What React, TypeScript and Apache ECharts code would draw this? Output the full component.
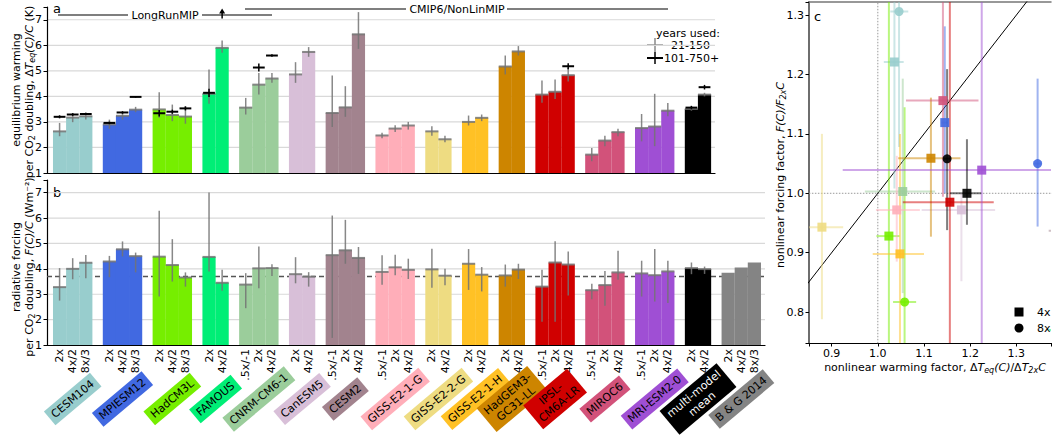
import React, { useEffect, useRef } from "react";
import * as echarts from "echarts";

const FONT = "DejaVu Sans";

// ---------------- data ----------------
const models = [
  "CESM104", "MPIESM12", "HadCM3L", "FAMOUS", "CNRM-CM6-1", "CanESM5", "CESM2",
  "GISS-E2-1-G", "GISS-E2-2-G", "GISS-E2-1-H", "HadGEM3-GC31-LL", "IPSL-CM6A-LR",
  "MIROC6", "MRI-ESM2-0", "multi-model mean", "B & G 2014",
];
const modelLabels = [
  "CESM104", "MPIESM12", "HadCM3L", "FAMOUS", "CNRM-CM6-1", "CanESM5", "CESM2",
  "GISS-E2-1-G", "GISS-E2-2-G", "GISS-E2-1-H", "HadGEM3-\nGC31-LL", "IPSL-\nCM6A-LR",
  "MIROC6", "MRI-ESM2-0", "multi-model\nmean", "B & G 2014",
];
const experiments = [
  ["2x", "4x/2", "8x/3"],
  ["2x", "4x/2", "8x/3"],
  ["2x", "4x/2", "8x/3"],
  ["2x", "4x/2"],
  [".5x/-1", "2x", "4x/2"],
  ["2x", "4x/2"],
  [".5x/-1", "2x", "4x/2"],
  [".5x/-1", "2x", "4x/2"],
  ["2x", "4x/2"],
  ["2x", "4x/2"],
  ["2x", "4x/2"],
  [".5x/-1", "2x", "4x/2"],
  [".5x/-1", "2x", "4x/2"],
  [".5x/-1", "2x", "4x/2"],
  ["2x", "4x/2"],
  ["2x", "4x/2", "8x/3"],
];

// panel a: equilibrium warming per CO2 doubling (K), years 21-150
const warming = [
  [2.63, 3.17, 3.22], [2.90, 3.24, 3.48], [3.49, 3.27, 3.21], [4.10, 5.90],
  [3.56, 4.46, 4.70], [4.86, 5.74], [3.35, 3.57, 6.43], [2.47, 2.74, 2.86],
  [2.63, 2.32], [3.00, 3.16], [5.17, 5.76], [4.07, 4.18, 4.83],
  [1.72, 2.27, 2.60], [2.76, 2.82, 3.44], [3.51, 4.07], [null, null, null],
];
const warmingLow = [
  [2.44, 2.99, 3.09], [2.73, 3.09, 3.38], [3.16, 3.03, 2.93], [3.71, 5.71],
  [3.29, 4.07, 4.53], [4.53, 5.55], [2.80, 3.20, 5.86], [2.36, 2.61, 2.70],
  [2.46, 2.20], [2.86, 3.03], [4.86, 5.60], [3.75, 3.90, 4.58],
  [1.46, 2.05, 2.44], [2.24, 2.05, 3.22], [3.44, 4.00], [null, null, null],
];
const warmingHigh = [
  [2.96, 3.35, 3.38], [3.09, 3.38, 3.59], [4.16, 3.68, 3.61], [5.05, 6.19],
  [3.94, 4.92, 4.92], [5.34, 5.93], [4.82, 4.40, 7.30], [2.58, 2.87, 3.00],
  [2.83, 2.46], [3.25, 3.29], [5.60, 5.97], [4.62, 4.66, 5.12],
  [1.98, 2.46, 2.73], [3.31, 4.10, 3.74], [3.60, 4.14], [null, null, null],
];
// years 101-750+ estimates (black crosses)
const warmingLong = [
  [3.20, 3.29, 3.31], [2.96, 3.37, 3.98], [3.34, 3.40, 3.53], [4.14, null],
  [null, 5.13, 5.60], [null, null], [null, null, null], [null, null, null],
  [null, null], [null, null], [null, null], [null, null, 5.18],
  [null, null, null], [null, null, null], [3.56, 4.36], [null, null, null],
];
const warmingLongErr = [
  [0.06, 0.05, 0.04], [0.05, 0.05, 0.03], [0.13, 0.08, 0.08], [0.16, 0],
  [0, 0.16, 0.05], [0, 0], [0, 0, 0], [0, 0, 0],
  [0, 0], [0, 0], [0, 0], [0, 0, 0.12],
  [0, 0, 0], [0, 0, 0], [0.07, 0.09], [0, 0, 0],
];
const warmingOffScaleUp = ["FAMOUS 4x/2"];

// panel b: radiative forcing per CO2 doubling (W m-2)
const forcing = [
  [3.28, 4.00, 4.24], [4.29, 4.77, 4.50], [4.48, 4.15, 3.66], [4.47, 3.45],
  [3.38, 4.02, 4.03], [3.79, 3.69], [4.54, 4.73, 4.43], [3.88, 4.06, 3.96],
  [3.98, 3.73], [4.20, 3.77], [3.74, 3.97], [3.30, 4.25, 4.17],
  [3.16, 3.36, 3.86], [3.82, 3.75, 3.90], [4.03, 3.99], [3.85, 4.05, 4.25],
];
const forcingLow = [
  [2.75, 3.59, 3.63], [3.67, 4.49, 3.86], [2.91, 3.50, 3.30], [3.90, 3.14],
  [2.45, 3.24, 3.72], [3.43, 3.30], [1.28, 4.20, 3.80], [3.37, 3.75, 3.60],
  [3.26, 3.35], [3.17, 3.11], [3.30, 3.60], [1.92, 1.92, 2.95],
  [2.80, 2.55, 3.57], [2.91, 2.71, 2.65], [3.79, 3.80], [null, null, null],
];
const forcingHigh = [
  [4.03, 4.42, 4.55], [4.51, 5.08, 4.64], [6.29, 5.17, 3.86], [7.01, 3.96],
  [3.83, 4.88, 4.18], [4.46, 3.87], [6.10, 5.93, 4.86], [4.54, 4.56, 4.40],
  [4.79, 4.00], [4.78, 4.07], [4.17, 4.20], [3.96, 5.09, 4.68],
  [3.41, 3.92, 4.71], [4.32, 4.78, 4.32], [4.25, 4.09], [null, null, null],
];
const forcingReference = 3.7;

// panel c: nonlinear factors
const scatterModel = [
  "CESM104", "CESM104", "MPIESM12", "MPIESM12", "HadCM3L", "HadCM3L", "FAMOUS",
  "CNRM-CM6-1", "CanESM5", "CESM2", "GISS-E2-1-G", "GISS-E2-2-G", "GISS-E2-1-H",
  "HadGEM3-GC31-LL", "IPSL-CM6A-LR", "MIROC6", "MRI-ESM2-0", "multi-model mean", "multi-model mean",
];
const scatterExp = ["4x", "8x", "4x", "8x", "4x", "8x", "4x", "4x", "4x", "4x", "4x", "4x", "4x", "4x", "4x", "4x", "4x", "8x", "4x"];
const warmFactor = [1.036, 1.046, 1.145, 1.346, 1.024, 1.058, 1.44, 1.054, 1.181, 1.80, 1.041, 0.879, 1.048, 1.115, 1.156, 1.141, 1.225, 1.150, 1.193];
const warmFactorLow = [1.013, 1.027, 1.138, 1.339, 0.997, 1.033, 1.37, 0.972, 1.095, 1.37, 0.996, 0.830, 0.989, 1.044, 1.054, 1.061, 0.924, 1.142, 1.156];
const warmFactorHigh = [1.056, 1.066, 1.152, 1.353, 1.047, 1.083, 1.51, 1.124, 1.254, 2.20, 1.091, 0.925, 1.100, 1.179, 1.251, 1.218, 1.600, 1.158, 1.224];
const forcFactor = [1.221, 1.306, 1.119, 1.050, 0.928, 0.817, 0.770, 1.003, 0.972, 0.937, 0.972, 0.943, 0.898, 1.059, 0.985, 1.156, 1.039, 1.058, 1.000];
const forcFactorLow = [1.008, 1.078, 1.000, 0.944, 0.600, 0.600, 0.700, 0.832, 0.852, 0.850, 0.885, 0.788, 0.600, 0.927, 0.600, 0.994, 0.600, 0.938, 0.947];
const forcFactorHigh = [1.450, 1.500, 1.281, 1.193, 1.500, 1.145, 0.840, 1.193, 1.000, 1.020, 1.063, 1.100, 1.100, 1.161, 1.500, 1.500, 1.500, 1.209, 1.091];

// ---------------- styles / layout ----------------
const modelColors = [
  "#98cdcd", "#4169e1", "#76ee00", "#00ee76", "#9bcd9b", "#d8bfd8", "#a2838e",
  "#ffaeb9", "#eedc82", "#ffc125", "#cd8500", "#d00000", "#d2527a", "#9f4fd4",
  "#000000", "#848484",
];
const labelTextColors = models.map((m) => (m === "multi-model mean" ? "#ffffff" : "#000000"));

const GAP = 0.8;
const X_MIN = -0.46;
const X_MAX_A = 50.5;
const X_MAX_B = 54.31;
const GRAY = "rgba(115,115,115,0.85)";

function rgba(hex: string, a: number) {
  const n = parseInt(hex.slice(1), 16);
  return `rgba(${(n >> 16) & 255},${(n >> 8) & 255},${n & 255},${a})`;
}

type Item = {
  x: number; v: number; lo: number | null; hi: number | null;
  lv: number | null; le: number; arrow: boolean; color: string; label: string;
};

function buildItems() {
  const positions: number[][] = [];
  let k = 0;
  experiments.forEach((exps, g) => {
    positions.push(exps.map(() => { const c = k + GAP * g + 0.5; k++; return c; }));
  });
  const itemsA: Item[] = [];
  const itemsB: Item[] = [];
  experiments.forEach((exps, g) => {
    exps.forEach((e, j) => {
      const x = positions[g][j];
      const w = warming[g][j];
      if (w != null) {
        itemsA.push({
          x, v: w, lo: warmingLow[g][j], hi: warmingHigh[g][j],
          lv: warmingLong[g][j], le: warmingLongErr[g][j],
          arrow: warmingOffScaleUp.includes(`${models[g]} ${e}`),
          color: modelColors[g], label: e,
        });
      }
      itemsB.push({
        x, v: forcing[g][j], lo: forcingLow[g][j], hi: forcingHigh[g][j],
        lv: null, le: 0, arrow: false, color: modelColors[g], label: e,
      });
    });
  });
  const groupCenters = positions.map((p) => (p[0] + p[p.length - 1]) / 2);
  return { itemsA, itemsB, groupCenters };
}

function errRender(items: Item[]) {
  return (params: any, api: any) => {
    const it = items[params.dataIndex];
    const ch: any[] = [];
    const seg = (x1: number, y1: number, x2: number, y2: number, stroke: string, lw: number) => {
      const a = api.coord([x1, y1]);
      const b = api.coord([x2, y2]);
      ch.push({ type: "line", shape: { x1: a[0], y1: a[1], x2: b[0], y2: b[1] }, style: { stroke, lineWidth: lw } });
    };
    if (it.lo != null && it.hi != null) {
      seg(it.x, it.lo, it.x, it.hi, GRAY, 1.5);
      seg(it.x - 0.5, it.v, it.x + 0.5, it.v, GRAY, 2);
    }
    if (it.lv != null) {
      seg(it.x - 0.45, it.lv, it.x + 0.45, it.lv, "#000", 2);
      if (it.le > 0) seg(it.x, it.lv - it.le, it.x, it.lv + it.le, "#000", 1.5);
    }
    if (it.arrow) {
      const a = api.coord([it.x, 7.05]);
      const b = api.coord([it.x, 7.36]);
      ch.push({ type: "line", shape: { x1: a[0], y1: a[1], x2: b[0], y2: b[1] }, style: { stroke: "#000", lineWidth: 1.5 } });
      ch.push({ type: "polygon", shape: { points: [[b[0] - 3, b[1] + 3], [b[0] + 3, b[1] + 3], [b[0], b[1] - 2]] }, style: { fill: "#000" } });
    }
    return { type: "group", children: ch };
  };
}

function gridLineRender(xMin: number, xMax: number) {
  return (params: any, api: any) => {
    const v = api.value(1);
    const a = api.coord([xMin, v]);
    const b = api.coord([xMax, v]);
    return { type: "line", shape: { x1: a[0], y1: a[1], x2: b[0], y2: b[1] }, style: { stroke: "#d9d9d9", lineWidth: 1.2 } };
  };
}

const fmt1 = (v: number) => {
  const r = Math.round(v * 10) / 10;
  return Math.abs(v - r) < 1e-6 ? r.toFixed(1) : "";
};
const fmtInt = (v: number) => (Math.abs(v - Math.round(v)) < 1e-6 ? String(Math.round(v)) : "");

const richBase = {
  n: { fontSize: 11, fontFamily: FONT, fill: "#000", lineHeight: 14 },
  i: { fontSize: 11, fontFamily: FONT, fontStyle: "italic", fill: "#000", lineHeight: 14 },
  s: { fontSize: 8, fontFamily: FONT, fill: "#000", lineHeight: 9, verticalAlign: "bottom" },
  si: { fontSize: 8, fontFamily: FONT, fontStyle: "italic", fill: "#000", lineHeight: 9, verticalAlign: "bottom" },
};

function gText(text: string, x: number, y: number, align: string, vAlign: string, extra: any = {}) {
  return {
    type: "text", x, y, silent: true, ...extra,
    style: {
      text, fontSize: 11, fontFamily: FONT, fill: "#000",
      align, verticalAlign: vAlign, textAlign: align, textVerticalAlign: vAlign,
      ...(extra.style || {}),
    },
  };
}
function gLine(x1: number, y1: number, x2: number, y2: number, stroke: string, lw: number) {
  return { type: "line", silent: true, shape: { x1, y1, x2, y2 }, style: { stroke, lineWidth: lw } };
}

function buildOption() {
  const { itemsA, itemsB, groupCenters } = buildItems();
  const gridVals = [2, 3, 4, 5, 6, 7];
  const allBars = itemsB;
  const rot90 = Math.PI / 2;
  const rotLbl = (40 * Math.PI) / 180;

  const scatterIdx = scatterModel.map((m) => models.indexOf(m));

  const series: any[] = [
    {
      type: "custom", xAxisIndex: 0, yAxisIndex: 0, z: 0, silent: true,
      data: gridVals.map((v) => [0, v]), renderItem: gridLineRender(X_MIN, X_MAX_A),
    },
    {
      type: "custom", xAxisIndex: 1, yAxisIndex: 1, z: 0, silent: true,
      data: gridVals.map((v) => [0, v]), renderItem: gridLineRender(X_MIN, X_MAX_B),
    },
    {
      type: "line", xAxisIndex: 1, yAxisIndex: 1, z: 1, silent: true, symbol: "none",
      data: [[X_MIN, forcingReference], [X_MAX_B, forcingReference]],
      lineStyle: { color: "#555", width: 1.5, type: [5, 3] },
    },
    {
      type: "bar", xAxisIndex: 0, yAxisIndex: 0, z: 2, silent: true, barWidth: 13.2,
      data: itemsA.map((it) => ({ value: [it.x, it.v], itemStyle: { color: it.color } })),
    },
    {
      type: "bar", xAxisIndex: 1, yAxisIndex: 1, z: 2, silent: true, barWidth: 13.2,
      data: itemsB.map((it) => ({ value: [it.x, it.v], itemStyle: { color: it.color } })),
    },
    {
      type: "custom", xAxisIndex: 0, yAxisIndex: 0, z: 3, silent: true, clip: false,
      data: itemsA.map((it) => [it.x, it.v]), renderItem: errRender(itemsA),
    },
    {
      type: "custom", xAxisIndex: 1, yAxisIndex: 1, z: 3, silent: true, clip: false,
      data: itemsB.map((it) => [it.x, it.v]), renderItem: errRender(itemsB),
    },
    // experiment tick labels
    {
      type: "custom", xAxisIndex: 1, yAxisIndex: 1, z: 4, silent: true, clip: false,
      data: allBars.map((it) => [it.x, 1]),
      renderItem: (params: any, api: any) => {
        const it = allBars[params.dataIndex];
        const p = api.coord([it.x, 1]);
        return {
          type: "text", x: p[0], y: p[1] + 4, rotation: rot90,
          style: {
            text: it.label, fontSize: 11, fontFamily: FONT, fill: "#000",
            align: "right", verticalAlign: "middle", textAlign: "right", textVerticalAlign: "middle",
          },
        };
      },
    },
    // model labels
    {
      type: "custom", xAxisIndex: 1, yAxisIndex: 1, z: 4, silent: true, clip: false,
      data: groupCenters.map((c) => [c, 1]),
      renderItem: (params: any, api: any) => {
        const g = params.dataIndex;
        const p = api.coord([groupCenters[g], 1]);
        return {
          type: "text", x: p[0], y: p[1] + 54, rotation: rotLbl,
          style: {
            text: modelLabels[g], fontSize: 11, fontFamily: FONT, fill: labelTextColors[g],
            align: "center", verticalAlign: "middle", textAlign: "center", textVerticalAlign: "middle",
            backgroundColor: modelColors[g], padding: [3, 4, 2, 4], lineHeight: 13,
          },
        };
      },
    },
    // panel c reference lines
    {
      type: "line", xAxisIndex: 2, yAxisIndex: 2, z: 1, silent: true, symbol: "none",
      data: [[1.0, 0.5], [1.0, 1.5]], lineStyle: { color: "#999", width: 1, type: [1.5, 1.5] },
    },
    {
      type: "line", xAxisIndex: 2, yAxisIndex: 2, z: 1, silent: true, symbol: "none",
      data: [[0.5, 1.0], [1.5, 1.0]], lineStyle: { color: "#999", width: 1, type: [1.5, 1.5] },
    },
    {
      type: "line", xAxisIndex: 2, yAxisIndex: 2, z: 1, silent: true, symbol: "none",
      data: [[0.5, 0.5], [1.5, 1.5]], lineStyle: { color: "#000", width: 1 },
    },
    // panel c error bars
    {
      type: "custom", xAxisIndex: 2, yAxisIndex: 2, z: 2, silent: true, clip: true,
      data: warmFactor.map((x, i) => [x, forcFactor[i]]),
      renderItem: (params: any, api: any) => {
        const i = params.dataIndex;
        const col = rgba(modelColors[scatterIdx[i]], 0.5);
        const a = api.coord([warmFactorLow[i], forcFactor[i]]);
        const b = api.coord([warmFactorHigh[i], forcFactor[i]]);
        const c = api.coord([warmFactor[i], forcFactorLow[i]]);
        const d = api.coord([warmFactor[i], forcFactorHigh[i]]);
        return {
          type: "group",
          children: [
            { type: "line", shape: { x1: a[0], y1: a[1], x2: b[0], y2: b[1] }, style: { stroke: col, lineWidth: 2 } },
            { type: "line", shape: { x1: c[0], y1: c[1], x2: d[0], y2: d[1] }, style: { stroke: col, lineWidth: 2 } },
          ],
        };
      },
    },
    // panel c markers
    {
      type: "custom", xAxisIndex: 2, yAxisIndex: 2, z: 3, silent: true, clip: true,
      data: warmFactor.map((x, i) => [x, forcFactor[i]]),
      renderItem: (params: any, api: any) => {
        const i = params.dataIndex;
        const col = modelColors[scatterIdx[i]];
        const p = api.coord([warmFactor[i], forcFactor[i]]);
        if (scatterExp[i] === "8x") {
          return { type: "circle", shape: { cx: p[0], cy: p[1], r: 4.5 }, style: { fill: col, opacity: 0.9 } };
        }
        return { type: "rect", shape: { x: p[0] - 4.5, y: p[1] - 4.5, width: 9, height: 9 }, style: { fill: col, opacity: 0.9 } };
      },
    },
  ];

  const axisCommonLine = { onZero: false, lineStyle: { color: "#000", width: 1.2 } };

  const graphic: any[] = [
    // panel letters
    gText("a", 53, 8, "left", "middle", { style: { fontSize: 13 } }),
    gText("b", 53, 192, "left", "middle", { style: { fontSize: 13 } }),
    gText("c", 814, 16, "left", "middle", { style: { fontSize: 13 } }),
    // project annotations
    gLine(58, 15, 128, 15, "#555", 1.5),
    gText("LongRunMIP", 165, 15, "center", "middle"),
    gLine(202, 15, 272, 15, "#555", 1.5),
    gLine(245, 9, 406, 9, "#555", 1.5),
    gText("CMIP6/NonLinMIP", 457, 9, "center", "middle"),
    gLine(507, 9, 668, 9, "#555", 1.5),
    // legend panel a
    gText("years used:", 720, 33, "right", "middle"),
    gLine(647, 45, 663, 45, GRAY, 1.5),
    gLine(655, 38, 655, 52, GRAY, 1.5),
    gText("21-150", 671, 45, "left", "middle"),
    gLine(647, 58, 663, 58, "#000", 2),
    gLine(655, 52, 655, 64, "#000", 1.5),
    gText("101-750+", 664, 58, "left", "middle"),
    // y labels panel a
    gText("equilibrium warming", 16, 90, "center", "middle", { rotation: Math.PI / 2 }),
    {
      type: "text", x: 29, y: 92, rotation: Math.PI / 2, silent: true,
      style: {
        text: "{n|per CO}{s|2}{n| doubling, Δ}{i|T}{si|eq}{i|(C)/C}{n| (K)}",
        rich: richBase, align: "center", verticalAlign: "middle", textAlign: "center", textVerticalAlign: "middle",
      },
    },
    // y labels panel b
    gText("radiative forcing", 16, 267, "center", "middle", { rotation: Math.PI / 2 }),
    {
      type: "text", x: 29, y: 267, rotation: Math.PI / 2, silent: true,
      style: {
        text: "{n|per CO}{s|2}{n| doubling, }{i|F(C)/C}{n| (Wm⁻²)}",
        rich: richBase, align: "center", verticalAlign: "middle", textAlign: "center", textVerticalAlign: "middle",
      },
    },
    // panel c axis titles
    {
      type: "text", x: 780, y: 175, rotation: Math.PI / 2, silent: true,
      style: {
        text: "{n|nonlinear forcing factor, }{i|F(C)/F}{si|2x}{i|C}",
        rich: richBase, align: "center", verticalAlign: "middle", textAlign: "center", textVerticalAlign: "middle",
      },
    },
    {
      type: "text", x: 935, y: 367, silent: true,
      style: {
        text: "{n|nonlinear warming factor, Δ}{i|T}{si|eq}{i|(C)}{n|/Δ}{i|T}{si|2x}{i|C}",
        rich: richBase, align: "center", verticalAlign: "middle", textAlign: "center", textVerticalAlign: "middle",
      },
    },
    // panel c legend
    { type: "rect", silent: true, shape: { x: 1014.5, y: 307.5, width: 9, height: 9 }, style: { fill: "#000" } },
    { type: "circle", silent: true, shape: { cx: 1019, cy: 328, r: 4.5 }, style: { fill: "#000" } },
    gText("4x", 1037, 312, "left", "middle"),
    gText("8x", 1037, 328, "left", "middle"),
  ];

  return {
    animation: false,
    backgroundColor: "#ffffff",
    textStyle: { fontFamily: FONT },
    grid: [
      { left: 47, top: 7, width: 668, height: 166 },
      { left: 47, top: 180, width: 718, height: 165 },
      { left: 809, top: 2, width: 245, height: 341 },
    ],
    xAxis: [
      { gridIndex: 0, type: "value", min: X_MIN, max: X_MAX_A, axisLine: { show: true, ...axisCommonLine }, axisTick: { show: false }, axisLabel: { show: false }, splitLine: { show: false } },
      { gridIndex: 1, type: "value", min: X_MIN, max: X_MAX_B, axisLine: { show: true, ...axisCommonLine }, axisTick: { show: false }, axisLabel: { show: false }, splitLine: { show: false } },
      {
        gridIndex: 2, type: "value", min: 0.851, max: 1.375,
        axisLine: { show: true, ...axisCommonLine },
        axisTick: { show: true, length: 3.5, lineStyle: { color: "#000" } },
        axisLabel: { fontSize: 11, color: "#000", margin: 5, fontFamily: FONT, formatter: fmt1 },
        splitLine: { show: false },
      },
      {
        gridIndex: 2, type: "value", position: "top", min: 0.851, max: 1.375,
        axisLine: { show: true, onZero: false, lineStyle: { color: "#777", width: 1.5 } },
        axisTick: { show: false }, axisLabel: { show: false }, splitLine: { show: false },
      },
    ],
    yAxis: [
      {
        gridIndex: 0, type: "value", min: 1, max: 7.5, interval: 1,
        axisLine: { show: true, ...axisCommonLine },
        axisTick: { show: true, length: 3.5, lineStyle: { color: "#000" } },
        axisLabel: { fontSize: 11, color: "#000", margin: 5, fontFamily: FONT, formatter: fmtInt },
        splitLine: { show: false },
      },
      {
        gridIndex: 1, type: "value", min: 1, max: 7.5, interval: 1,
        axisLine: { show: true, ...axisCommonLine },
        axisTick: { show: true, length: 3.5, lineStyle: { color: "#000" } },
        axisLabel: { fontSize: 11, color: "#000", margin: 5, fontFamily: FONT, formatter: fmtInt },
        splitLine: { show: false },
      },
      {
        gridIndex: 2, type: "value", min: 0.748, max: 1.322,
        axisLine: { show: true, onZero: false, lineStyle: { color: "#6e6e6e", width: 2 } },
        axisTick: { show: true, length: 3.5, lineStyle: { color: "#000" } },
        axisLabel: { fontSize: 11, color: "#000", margin: 5, fontFamily: FONT, formatter: fmt1 },
        splitLine: { show: false },
      },
    ],
    series,
    graphic,
  };
}

export default function App() {
  const ref = useRef<HTMLDivElement>(null);
  useEffect(() => {
    if (!ref.current) return;
    const chart = echarts.init(ref.current, null, { renderer: "svg" });
    chart.setOption(buildOption() as any);
    return () => chart.dispose();
  }, []);
  return (
    <div
      ref={ref}
      style={{ position: "absolute", left: 0, top: 0, width: 1054, height: 438, background: "#fff" }}
    />
  );
}
